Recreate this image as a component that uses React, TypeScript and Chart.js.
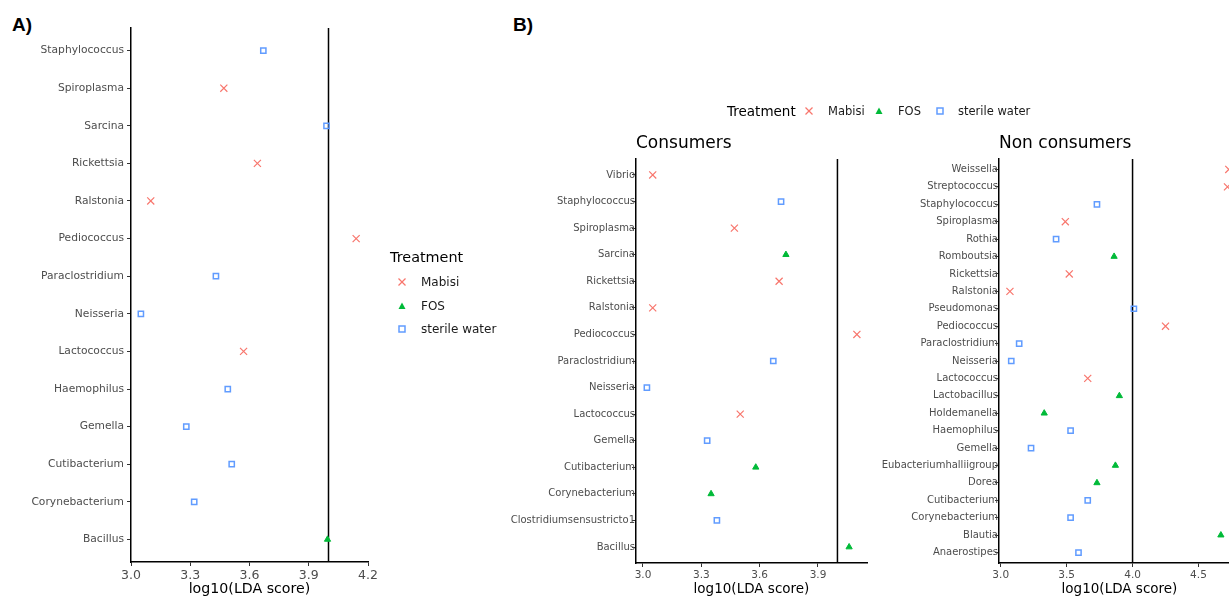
import React, { useEffect, useRef } from 'react';
import { Chart, registerables } from 'chart.js';

Chart.register(...registerables);

// ---------------- data ----------------
const TREATMENTS = ['Mabisi', 'FOS', 'sterile water'];
const LDA_CUTOFF = 4.0;
const X_TITLE = 'log10(LDA score)';
const LEGEND_TITLE = 'Treatment';

// Panel A (taxa listed top to bottom)
const A_TAXA = [
  'Staphylococcus', 'Spiroplasma', 'Sarcina', 'Rickettsia', 'Ralstonia', 'Pediococcus',
  'Paraclostridium', 'Neisseria', 'Lactococcus', 'Haemophilus', 'Gemella', 'Cutibacterium',
  'Corynebacterium', 'Bacillus',
];
const A_LDA = [3.67, 3.47, 3.99, 3.64, 3.10, 4.14, 3.43, 3.05, 3.57, 3.49, 3.28, 3.51, 3.32, 3.995];
const A_GROUP = [
  'sterile water', 'Mabisi', 'sterile water', 'Mabisi', 'Mabisi', 'Mabisi',
  'sterile water', 'sterile water', 'Mabisi', 'sterile water', 'sterile water', 'sterile water',
  'sterile water', 'FOS',
];
const A_X_TICKS = { min: 3.0, max: 4.2, step: 0.3 };

// Panel B - Consumers
const C_TAXA = [
  'Vibrio', 'Staphylococcus', 'Spiroplasma', 'Sarcina', 'Rickettsia', 'Ralstonia', 'Pediococcus',
  'Paraclostridium', 'Neisseria', 'Lactococcus', 'Gemella', 'Cutibacterium', 'Corynebacterium',
  'Clostridiumsensustricto1', 'Bacillus',
];
const C_LDA = [3.05, 3.71, 3.47, 3.735, 3.70, 3.05, 4.10, 3.67, 3.02, 3.50, 3.33, 3.58, 3.35, 3.38, 4.06];
const C_GROUP = [
  'Mabisi', 'sterile water', 'Mabisi', 'FOS', 'Mabisi', 'Mabisi', 'Mabisi',
  'sterile water', 'sterile water', 'Mabisi', 'sterile water', 'FOS', 'FOS',
  'sterile water', 'FOS',
];
const C_X_TICKS = { min: 2.964, max: 4.152, step: 0.3 };

// Panel B - Non consumers
const N_TAXA = [
  'Weissella', 'Streptococcus', 'Staphylococcus', 'Spiroplasma', 'Rothia', 'Romboutsia',
  'Rickettsia', 'Ralstonia', 'Pseudomonas', 'Pediococcus', 'Paraclostridium', 'Neisseria',
  'Lactococcus', 'Lactobacillus', 'Holdemanella', 'Haemophilus', 'Gemella',
  'Eubacteriumhalliigroup', 'Dorea', 'Cutibacterium', 'Corynebacterium', 'Blautia', 'Anaerostipes',
];
const N_LDA = [
  4.73, 4.72, 3.73, 3.49, 3.42, 3.86, 3.52, 3.07, 4.01, 4.25, 3.14, 3.08,
  3.66, 3.90, 3.33, 3.53, 3.23, 3.87, 3.73, 3.66, 3.53, 4.67, 3.59,
];
const N_GROUP = [
  'Mabisi', 'Mabisi', 'sterile water', 'Mabisi', 'sterile water', 'FOS',
  'Mabisi', 'Mabisi', 'sterile water', 'Mabisi', 'sterile water', 'sterile water',
  'Mabisi', 'FOS', 'FOS', 'sterile water', 'sterile water',
  'FOS', 'FOS', 'sterile water', 'sterile water', 'FOS', 'sterile water',
];
const N_X_TICKS = { min: 2.987, max: 4.815, step: 0.5 };

// ---------------- styles ----------------
const FONT = "'DejaVu Sans', sans-serif";
const COLORS: Record<string, string> = {
  Mabisi: '#F8766D',
  FOS: '#00BA38',
  'sterile water': '#619CFF',
};
const MARKERS: Record<string, any> = {
  Mabisi: { pointStyle: 'crossRot', pointRadius: 5, borderWidth: 1.2, fill: false },
  FOS: { pointStyle: 'triangle', pointRadius: 3.6, borderWidth: 1, fill: true },
  'sterile water': { pointStyle: 'rect', pointRadius: 3.7, borderWidth: 1.5, fill: false },
};

const vlinePlugin = {
  id: 'vline',
  beforeDatasetsDraw(chart: any) {
    const { ctx, chartArea, scales } = chart;
    const x = scales.x.getPixelForValue(LDA_CUTOFF);
    ctx.save();
    ctx.strokeStyle = '#000';
    ctx.lineWidth = 1.5;
    ctx.beginPath();
    ctx.moveTo(x, chartArea.top);
    ctx.lineTo(x, chartArea.bottom);
    ctx.stroke();
    ctx.restore();
  },
};

type PanelCfg = {
  taxa: string[];
  lda: number[];
  groups: string[];
  xt: { min: number; max: number; step: number };
  left: number;
  width: number;
  yAxisWidth: number;
  padTop: number;
  padRight: number;
  xAxisHeight: number;
  yFont: number;
  yPad: number;
  xFont: number;
  titleFont: number;
};

function Panel({ cfg }: { cfg: PanelCfg }) {
  const ref = useRef<HTMLCanvasElement>(null);
  useEffect(() => {
    const canvas = ref.current;
    if (!canvas) return;
    const n = cfg.taxa.length;
    const datasets = TREATMENTS.map((t) => {
      const m = MARKERS[t];
      return {
        label: t,
        data: cfg.taxa
          .map((name, i) => ({ x: cfg.lda[i], y: i + 1, g: cfg.groups[i] }))
          .filter((d) => d.g === t),
        pointStyle: m.pointStyle,
        pointRadius: m.pointRadius,
        pointHoverRadius: m.pointRadius,
        borderWidth: m.borderWidth,
        borderColor: COLORS[t],
        backgroundColor: m.fill ? COLORS[t] : 'rgba(0,0,0,0)',
        showLine: false,
        clip: false as any,
      };
    });
    const chart = new Chart(canvas, {
      type: 'scatter',
      data: { datasets },
      plugins: [vlinePlugin],
      options: {
        animation: false,
        responsive: false,
        devicePixelRatio: 1,
        events: [],
        layout: { padding: { top: cfg.padTop, right: cfg.padRight, left: 0, bottom: 0 } },
        plugins: { legend: { display: false }, tooltip: { enabled: false }, title: { display: false } },
        scales: {
          x: {
            type: 'linear',
            min: cfg.xt.min,
            max: cfg.xt.max,
            afterFit: (s: any) => { s.height = cfg.xAxisHeight; },
            border: { display: true, color: '#000', width: 1.5 },
            grid: { display: true, drawOnChartArea: false, drawTicks: true, tickLength: 4, color: '#333', lineWidth: 1 },
            ticks: {
              stepSize: cfg.xt.step,
              includeBounds: false,
              maxTicksLimit: 100,
              autoSkip: false,
              maxRotation: 0,
              padding: 2,
              color: '#4D4D4D',
              font: { family: FONT, size: cfg.xFont },
              callback: (v: any) => Number(v).toFixed(1),
            },
            title: {
              display: true,
              text: X_TITLE,
              color: '#000',
              padding: { top: 0, bottom: 0 },
              font: { family: FONT, size: cfg.titleFont },
            },
          },
          y: {
            type: 'linear',
            reverse: true,
            min: 0.4,
            max: n + 0.6,
            afterFit: (s: any) => { s.width = cfg.yAxisWidth; },
            border: { display: true, color: '#000', width: 1.5 },
            grid: { display: true, drawOnChartArea: false, drawTicks: true, tickLength: 4, color: '#333', lineWidth: 1 },
            ticks: {
              stepSize: 1,
              includeBounds: false,
              maxTicksLimit: 100,
              autoSkip: false,
              padding: cfg.yPad,
              color: '#4D4D4D',
              font: { family: FONT, size: cfg.yFont },
              callback: (v: any) => (Number.isInteger(v) ? cfg.taxa[v - 1] ?? '' : ''),
            },
          },
        },
      } as any,
    });
    return () => chart.destroy();
  }, [cfg]);
  return (
    <canvas
      ref={ref}
      width={cfg.width}
      height={598}
      style={{ position: 'absolute', left: cfg.left, top: 0, width: cfg.width, height: 598, display: 'block' }}
    />
  );
}

const PANEL_A: PanelCfg = {
  taxa: A_TAXA, lda: A_LDA, groups: A_GROUP, xt: A_X_TICKS,
  left: 0, width: 385, yAxisWidth: 131, padTop: 28, padRight: 17, xAxisHeight: 36,
  yFont: 10.7, yPad: 3, xFont: 12.5, titleFont: 14.2,
};
const PANEL_C: PanelCfg = {
  taxa: C_TAXA, lda: C_LDA, groups: C_GROUP, xt: C_X_TICKS,
  left: 440, width: 440, yAxisWidth: 196, padTop: 159, padRight: 13, xAxisHeight: 35,
  yFont: 10, yPad: -3, xFont: 10.5, titleFont: 13.5,
};
const PANEL_N: PanelCfg = {
  taxa: N_TAXA, lda: N_LDA, groups: N_GROUP, xt: N_X_TICKS,
  left: 860, width: 390, yAxisWidth: 139, padTop: 159, padRight: 10, xAxisHeight: 35,
  yFont: 10, yPad: -3, xFont: 10.5, titleFont: 13.5,
};

function Marker({ t }: { t: string }) {
  const c = COLORS[t];
  return (
    <svg width={10} height={10} viewBox="0 0 10 10" style={{ display: 'block' }}>
      {t === 'Mabisi' && (
        <g stroke={c} strokeWidth={1.2}>
          <line x1={1.5} y1={1.5} x2={8.5} y2={8.5} />
          <line x1={8.5} y1={1.5} x2={1.5} y2={8.5} />
        </g>
      )}
      {t === 'FOS' && <polygon points="5,1.5 8.5,8 1.5,8" fill={c} />}
      {t === 'sterile water' && (
        <rect x={2} y={2} width={6} height={6} fill="none" stroke={c} strokeWidth={1.5} />
      )}
    </svg>
  );
}

function Text({ x, cy, size, children, bold, family, color }: any) {
  return (
    <div
      style={{
        position: 'absolute', left: x, top: cy - 20, height: 40, display: 'flex', alignItems: 'center',
        fontSize: size, fontFamily: family ?? FONT, fontWeight: bold ? 'bold' : 'normal',
        color: color ?? '#000', whiteSpace: 'nowrap',
      }}
    >
      {children}
    </div>
  );
}

function MarkerAt({ x, cy, t }: any) {
  return (
    <div style={{ position: 'absolute', left: x - 5, top: cy - 5, width: 10, height: 10 }}>
      <Marker t={t} />
    </div>
  );
}

export default function App() {
  const legendARows = [282, 306, 329];
  const legendBMarkers = [809, 879, 940];
  const legendBTexts = [828, 898, 958];
  return (
    <div style={{ position: 'fixed', left: 0, top: 0, width: 1229, height: 598, overflow: 'hidden', background: '#fff' }}>
      <Text x={12} cy={25} size={19} bold family="'Liberation Sans', Arial, sans-serif">A)</Text>
      <Text x={513} cy={25} size={19} bold family="'Liberation Sans', Arial, sans-serif">B)</Text>

      <Panel cfg={PANEL_A} />
      <Panel cfg={PANEL_C} />
      <Panel cfg={PANEL_N} />

      {/* Legend A */}
      <Text x={390} cy={257} size={14.4}>{LEGEND_TITLE}</Text>
      {TREATMENTS.map((t, i) => (
        <React.Fragment key={'a' + t}>
          <MarkerAt x={402} cy={legendARows[i]} t={t} />
          <Text x={421} cy={legendARows[i]} size={12} color="#1a1a1a">{t}</Text>
        </React.Fragment>
      ))}

      {/* Legend B */}
      <Text x={727} cy={111} size={13.5}>{LEGEND_TITLE}</Text>
      {TREATMENTS.map((t, i) => (
        <React.Fragment key={'b' + t}>
          <MarkerAt x={legendBMarkers[i]} cy={111} t={t} />
          <Text x={legendBTexts[i]} cy={111} size={11.5} color="#1a1a1a">{t}</Text>
        </React.Fragment>
      ))}

      <Text x={636} cy={142} size={17}>Consumers</Text>
      <Text x={999} cy={142} size={17}>Non consumers</Text>
    </div>
  );
}
